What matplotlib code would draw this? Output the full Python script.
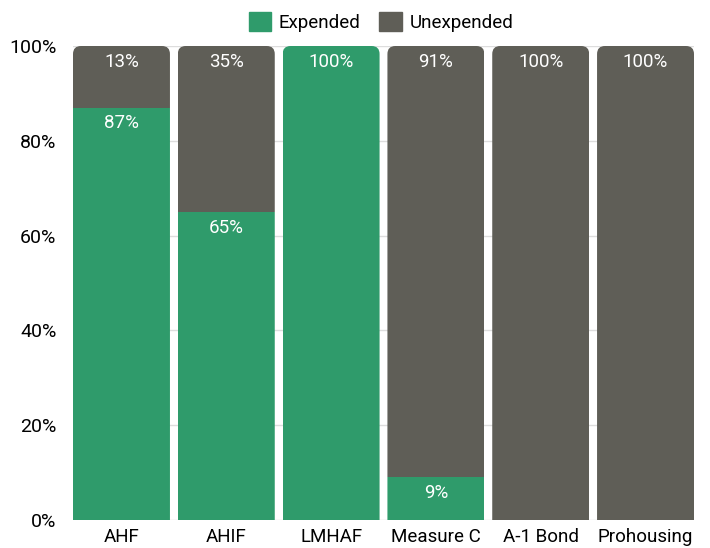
import numpy as np
import matplotlib
matplotlib.use("Agg")
import matplotlib.pyplot as plt
from matplotlib.patches import FancyBboxPatch, Patch

# funding sources and share of funds spent / unspent (%)
funds = ["AHF", "AHIF", "LMHAF", "Measure C", "A-1 Bond", "Prohousing"]
expended = [87, 65, 100, 9, 0, 0]
unexpended = [13, 35, 0, 91, 100, 100]

green = "#2f9b6b"
grey = "#5f5e57"

plt.rcParams['font.family'] = ['Roboto', 'DejaVu Sans']

fig = plt.figure(figsize=(7.1, 5.48), dpi=100)
ax = fig.add_axes([73/710, 28/548, 621/710, 474/548])

x = np.arange(len(funds))
w = 0.925
ax.set_xlim(-0.4625, 5.4625)
ax.set_ylim(0, 100)

b1 = ax.bar(x, expended, width=w, color=green, zorder=3)
b2 = ax.bar(x, unexpended, width=w, bottom=expended, color=grey, zorder=3)

# rounded top corners: clip each column with a rounded box reaching below 0
px_x = (ax.get_xlim()[1] - ax.get_xlim()[0]) / 621
px_y = 100 / 474
r = 8 * px_x
for i in range(len(funds)):
    clip = FancyBboxPatch((x[i] - w/2, -20), w, 120,
                          boxstyle="round,pad=0,rounding_size=%f" % r,
                          mutation_aspect=px_y / px_x,
                          transform=ax.transData, facecolor="none", edgecolor="none")
    b1[i].set_clip_path(clip)
    b2[i].set_clip_path(clip)

# value labels at the top of each segment
for i in range(len(funds)):
    if expended[i] > 0:
        ax.text(x[i], expended[i] - 1.4, "%d%%" % expended[i], ha="center", va="top",
                color="white", fontsize=13.5, zorder=4)
    if unexpended[i] > 0:
        ax.text(x[i], 100 - 1.4, "%d%%" % unexpended[i], ha="center", va="top",
                color="white", fontsize=13.5, zorder=4)

ax.set_yticks(range(0, 101, 20))
ax.set_yticklabels(["%d%%" % v for v in range(0, 101, 20)], fontsize=14)
ax.set_xticks(x)
ax.set_xticklabels(funds, fontsize=13.5)
ax.tick_params(length=0, pad=6)
ax.tick_params(axis="y", pad=12)
ax.grid(axis="y", color="#dddddd", linewidth=1, zorder=0)
for s in ax.spines.values():
    s.set_visible(False)

handles = [Patch(color=green, label="Expended"), Patch(color=grey, label="Unexpended")]
fig.legend(handles=handles, loc="center", bbox_to_anchor=(381/710, 1 - 22/548), ncol=2,
           frameon=False, fontsize=13.5, handlelength=1.2, handleheight=1.2,
           handletextpad=0.4, columnspacing=1.0)

fig.savefig("out.png", dpi=100)
